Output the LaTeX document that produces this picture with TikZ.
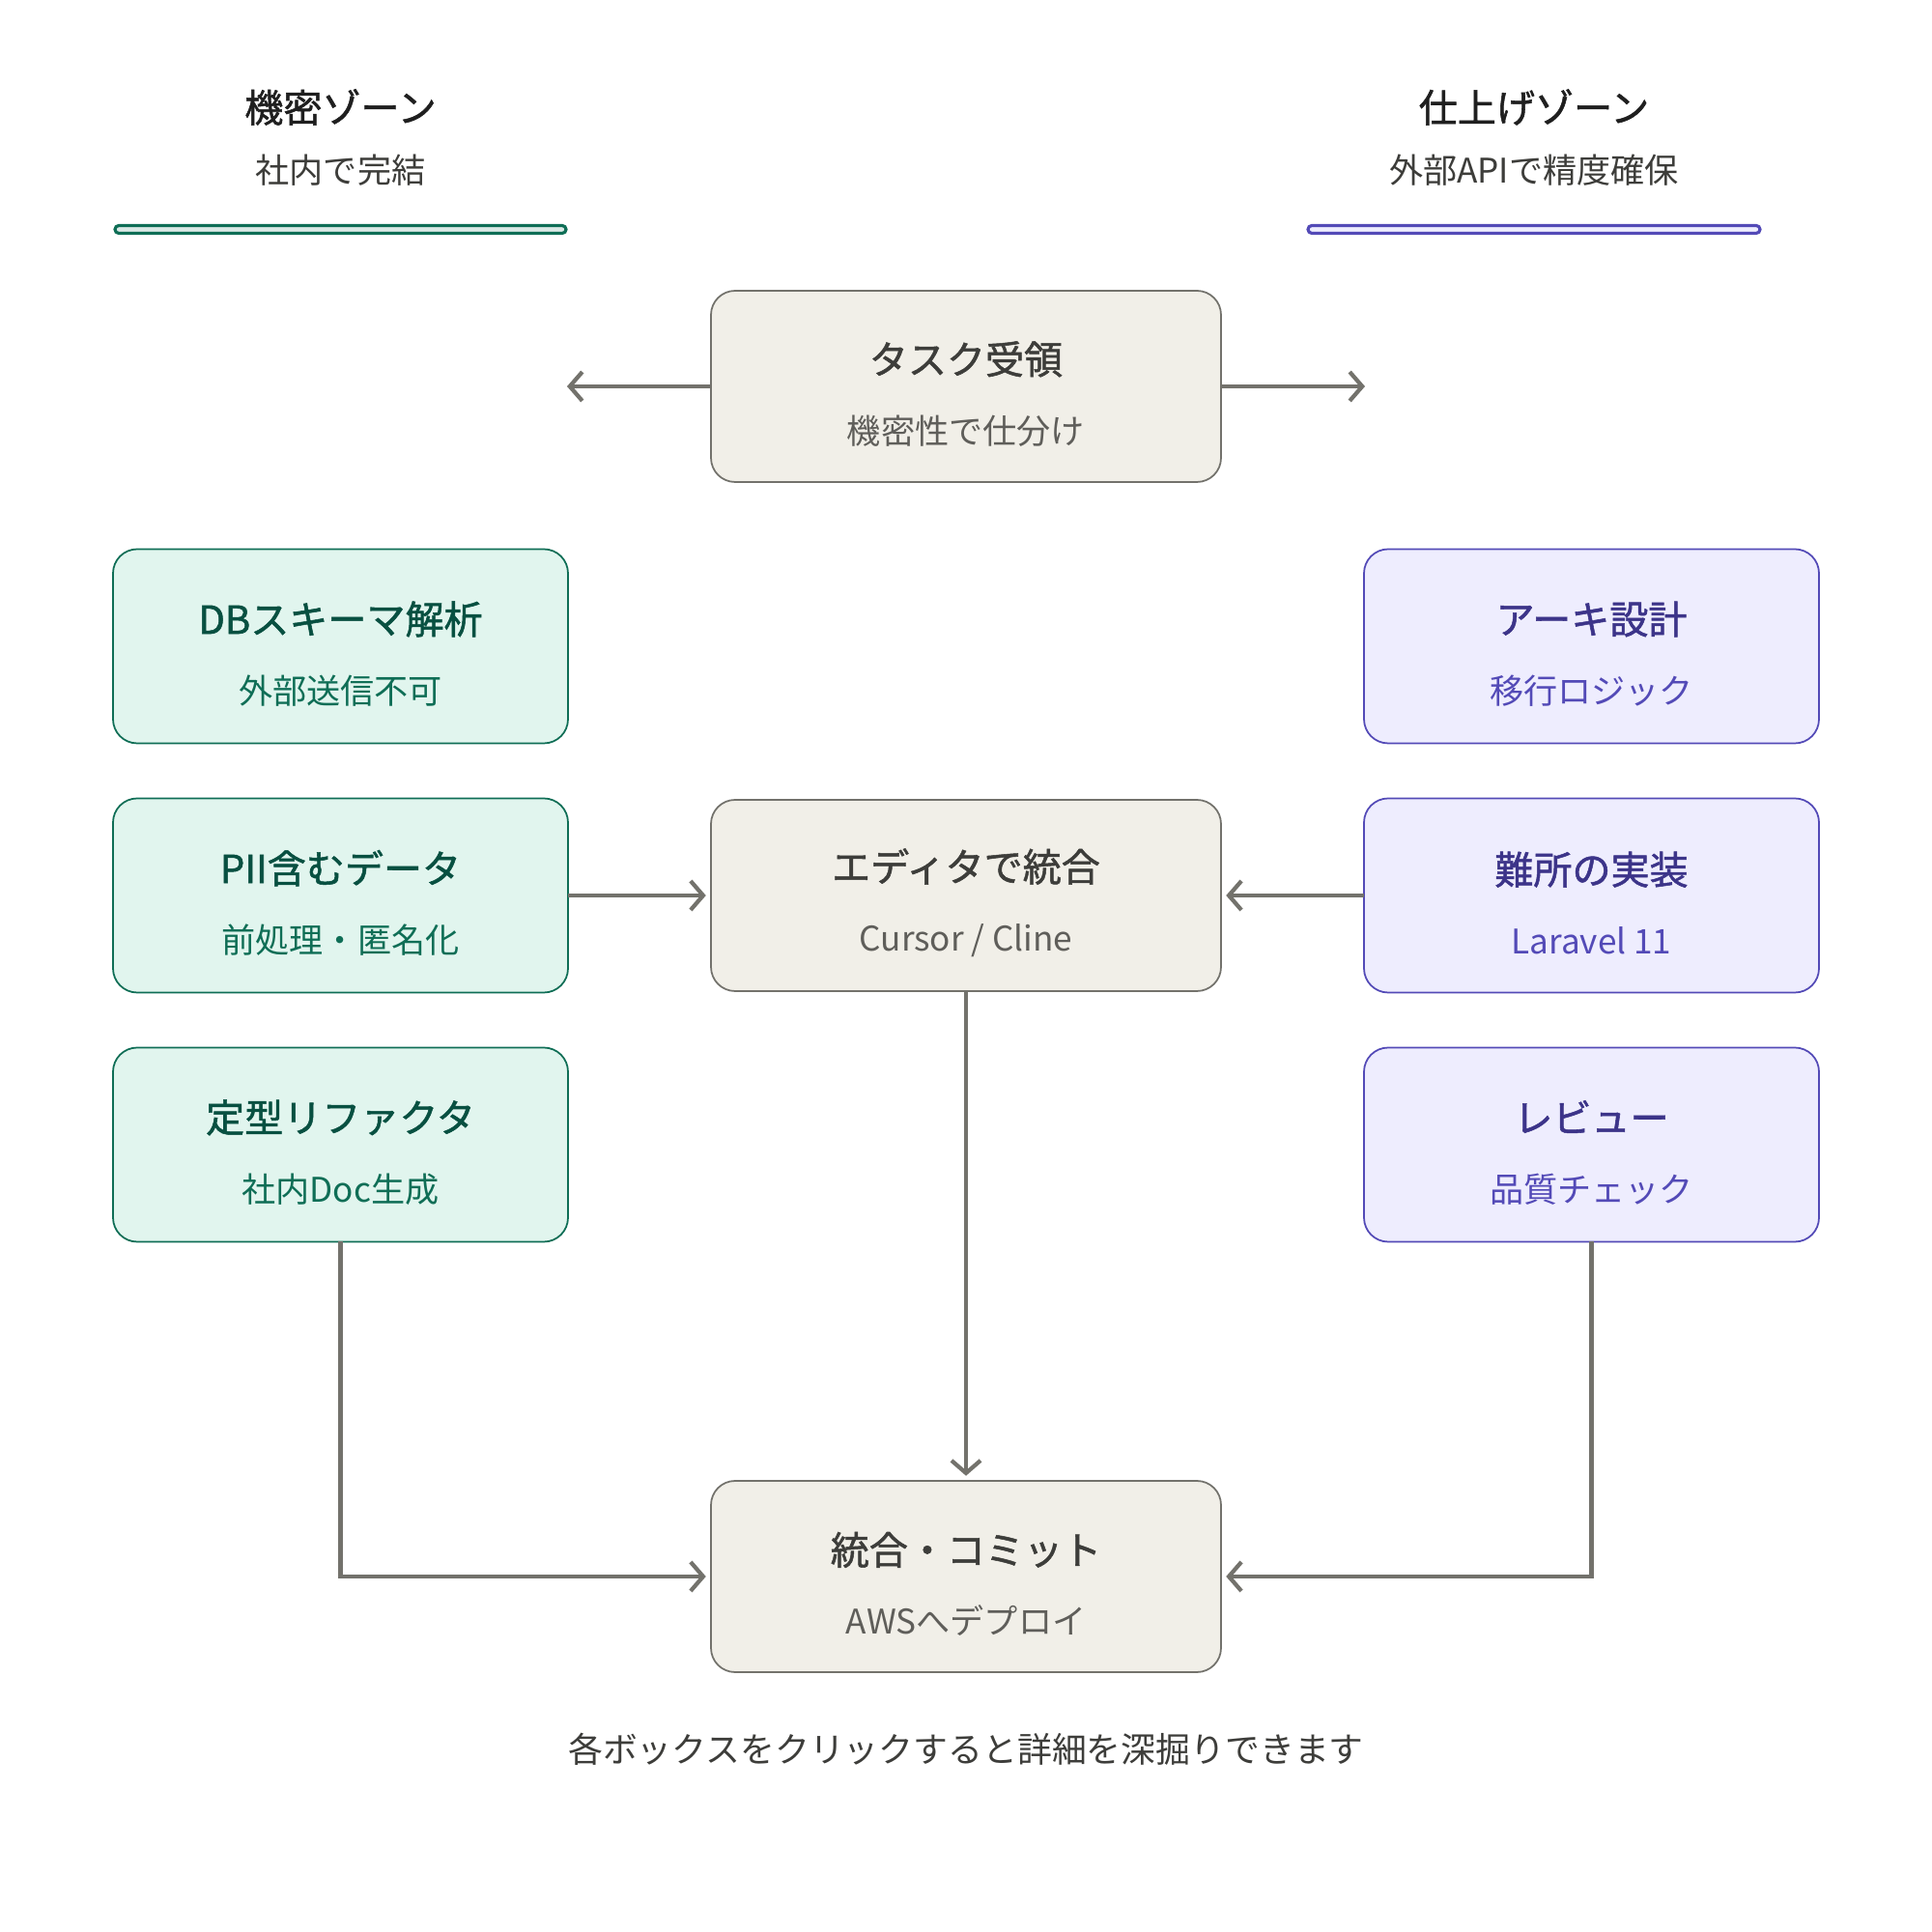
\documentclass[tikz,border=0pt]{standalone}
\usepackage{fontspec}
\setmainfont{Noto Sans CJK JP}[BoldFont={Noto Sans CJK JP}, BoldFeatures={FakeBold=1.3}]
\usepackage{xcolor}
\usetikzlibrary{positioning, arrows.meta}
\definecolor{boxgray}{HTML}{F1EFE8}
\definecolor{linegray}{HTML}{73726C}
\definecolor{textgray}{HTML}{3D3D3A}
\definecolor{subgray}{HTML}{5F5E5A}
\definecolor{boxgreen}{HTML}{E1F5EE}
\definecolor{linegreen}{HTML}{0F6E56}
\definecolor{textgreen}{HTML}{085041}
\definecolor{boxpurple}{HTML}{EEEDFE}
\definecolor{linepurple}{HTML}{534AB7}
\definecolor{textpurple}{HTML}{3C3489}
\newcommand{\ttl}[2]{{\color{#1}\fontsize{11.4}{20.5}\selectfont\bfseries\rule{0pt}{14pt}#2}}

\begin{document}
\begin{tikzpicture}[
  box/.style={rectangle, draw, rounded corners=0.25cm, line width=0.5pt, inner sep=0pt, outer sep=0pt, align=center, font=\fontsize{10}{20.5}\selectfont},
  graybox/.style={box, fill=boxgray, draw=linegray, text=subgray, minimum width=5.28cm, minimum height=1.98cm},
  greenbox/.style={box, fill=boxgreen, draw=linegreen, text=linegreen, minimum width=4.71cm, minimum height=2.01cm},
  purplebox/.style={box, fill=boxpurple, draw=linepurple, text=linepurple, minimum width=4.71cm, minimum height=2.01cm},
  zonetitle/.style={font=\fontsize{11.4}{13}\selectfont\bfseries, text=black!88},
  zonesub/.style={font=\fontsize{10}{12}\selectfont, text=textgray},
  flow/.style={draw=linegray, line width=1.2pt, -{Straight Barb[length=1.3mm, width=3mm]}},
  node distance=0.57cm
]
\fill[white] (0,0) rectangle (20,20);
\useasboundingbox (0,0) rectangle (20,20);

\node[zonetitle] (ltitle) at (3.525,18.89) {機密ゾーン};
\node[zonesub] (lsub) at (3.525,18.24) {社内で完結};
\node[zonetitle] (rtitle) at (15.88,18.89) {仕上げゾーン};
\node[zonesub] (rsub) at (15.88,18.24) {外部APIで精度確保};
\draw[linegreen, line width=0.9pt, fill=linegreen!15, rounded corners=0.04cm] (1.19,17.585) rectangle (5.86,17.665);
\draw[linepurple, line width=0.9pt, fill=boxpurple, rounded corners=0.04cm] (13.54,17.585) rectangle (18.22,17.665);

\node[graybox] (task) at (10,16) {\ttl{textgray}{タスク受領}\\機密性で仕分け};
\node[graybox, below=3.29cm of task] (editor) {\ttl{textgray}{エディタで統合}\\Cursor / Cline};
\node[greenbox, left=1.48cm of editor] (pii) {\ttl{textgreen}{PII含むデータ}\\前処理・匿名化};
\node[greenbox, above=of pii] (dbs) {\ttl{textgreen}{DBスキーマ解析}\\外部送信不可};
\node[greenbox, below=of pii] (refac) {\ttl{textgreen}{定型リファクタ}\\社内Doc生成};
\node[purplebox, right=1.48cm of editor] (impl) {\ttl{textpurple}{難所の実装}\\Laravel 11};
\node[purplebox, above=of impl] (arch) {\ttl{textpurple}{アーキ設計}\\移行ロジック};
\node[purplebox, below=of impl] (review) {\ttl{textpurple}{レビュー}\\品質チェック};
\node[graybox, below=5.07cm of editor] (commit) {\ttl{textgray}{統合・コミット}\\AWSへデプロイ};
\node[zonesub, font=\fontsize{10.2}{12}\selectfont] (foot) at (10,1.89) {各ボックスをクリックすると詳細を深掘りできます};

\coordinate (tl) at (5.87,16);
\coordinate (tr) at (14.13,16);
\draw[flow] (task.west) -- (tl);
\draw[flow] (task.east) -- (tr);
\draw[flow, shorten >=1.5pt] (pii) -- (editor);
\draw[flow, shorten >=1.5pt] (impl) -- (editor);
\draw[flow, shorten >=1.5pt] (editor) -- (commit);
\draw[flow, shorten >=1.5pt] (refac.south) |- (commit.west);
\draw[flow, shorten >=1.5pt] (review.south) |- (commit.east);
\end{tikzpicture}
\end{document}
